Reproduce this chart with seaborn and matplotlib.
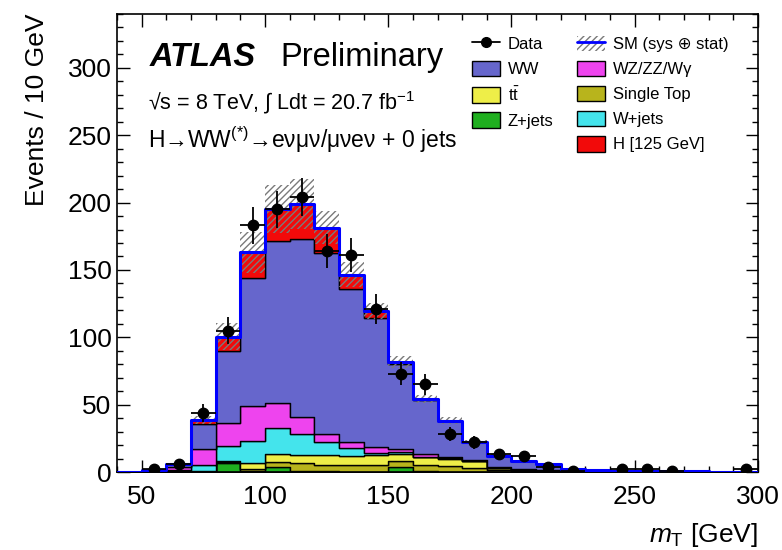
import numpy as np
import pandas as pd
import matplotlib
matplotlib.use("Agg")
import matplotlib.pyplot as plt
import seaborn as sns
from matplotlib.patches import Patch
from matplotlib.lines import Line2D
from matplotlib.ticker import MultipleLocator

# ---------------- data ----------------
bin_edges = list(range(40, 310, 10))
bin_centers = [45, 55, 65, 75, 85, 95, 105, 115, 125, 135, 145, 155, 165,
               175, 185, 195, 205, 215, 225, 235, 245, 255, 265, 275, 285, 295]

z_jets     = [0, 0, 0, 0, 7, 1, 3.5, 0.8, 0.5, 0.3, 0.3, 3.5, 0.8,
              0.3, 0.3, 0.2, 0, 0, 0, 0, 0, 0, 0, 0, 0, 0]
single_top = [0, 0, 0.3, 0.5, 0.5, 1.5, 3.7, 6.2, 4.7, 4.9, 4.9, 5.0, 4.4,
              4.2, 3.0, 1.0, 0.8, 0.4, 0.2, 0.1, 0, 0, 0, 0, 0, 0]
ttbar      = [0, 0, 0.3, 0.3, 1.0, 4.5, 6.2, 5.7, 7.5, 7.0, 7.5, 4.9, 5.8,
              5.2, 4.5, 1.5, 1.0, 0.5, 0.3, 0.2, 0.1, 0.1, 0, 0, 0, 0]
w_jets     = [0, 0.3, 0.8, 4.5, 11, 16, 19, 15.7, 9.4, 5.5, 1.3, 1.3, 0.5,
              0.5, 0.4, 0.3, 0.2, 0.1, 0, 0, 0, 0, 0, 0, 0, 0]
wz_zz_wg   = [0, 0.2, 2.0, 11.5, 17, 26, 19, 12.4, 6.3, 4.9, 4.4, 2.6, 1.7,
              1.0, 0.8, 0.5, 0.3, 0.2, 0.1, 0, 0, 0, 0, 0, 0, 0]
ww         = [0.3, 1.0, 2.5, 19, 53, 95, 120, 132, 134, 113, 96, 63, 40,
              26.5, 13, 8.5, 5.5, 4.5, 1.5, 1.0, 1.0, 0.7, 0.5, 0.4, 0.3, 0.3]
higgs      = [0, 0, 0.1, 2.5, 11, 19, 24, 26, 19, 11, 5, 1.5, 0.8,
              0.5, 0.3, 0.2, 0.1, 0, 0, 0, 0, 0, 0, 0, 0, 0]
sm_err     = [0.2, 0.3, 0.8, 3, 10, 15, 18, 18.6, 12, 9, 6, 4.5, 3,
              2.5, 1.5, 1.2, 1, 0.8, 0.5, 0.4, 0.3, 0.3, 0.2, 0.2, 0.2, 0.2]

data_mT     = [55, 65, 75, 85, 95, 105, 115, 125, 135, 145, 155, 165, 175,
               185, 195, 205, 215, 225, 245, 255, 265, 295]
data_events = [2, 6, 44, 105, 183, 195, 204, 164, 161, 121, 73, 65, 28,
               22, 13, 12, 4, 1, 2, 2, 1, 2]

process_names = ["H [125 GeV]", "WW", "WZ/ZZ/W\u03b3", "W+jets",
                 r"$\mathrm{t\bar{t}}$", "Single Top", "Z+jets"]
process_values = [higgs, ww, wz_zz_wg, w_jets, ttbar, single_top, z_jets]
process_colors = ["#F20A0A", "#6666CC", "#EE44EE", "#44E4EC",
                  "#EEEE48", "#B8B41C", "#1FAF1F"]

# ---------------- style ----------------
sns.set_theme(style="ticks")
plt.rcParams['font.family'] = ['Liberation Sans', 'DejaVu Sans']
plt.rcParams['mathtext.fontset'] = 'custom'
plt.rcParams['mathtext.rm'] = 'Liberation Sans'
plt.rcParams['mathtext.it'] = 'Liberation Sans:italic'
plt.rcParams['mathtext.bf'] = 'Liberation Sans:bold'
plt.rcParams['hatch.linewidth'] = 1.0
plt.rcParams['text.color'] = 'black'
plt.rcParams['axes.labelcolor'] = 'black'
plt.rcParams['xtick.color'] = 'black'
plt.rcParams['ytick.color'] = 'black'

fig = plt.figure(figsize=(7.82, 5.5), dpi=100)
ax = fig.add_axes([117 / 782, 1 - 472 / 550, 641 / 782, 458 / 550])

rows = []
for name, vals in zip(process_names, process_values):
    for c, v in zip(bin_centers, vals):
        rows.append({"mT": c, "events": v, "process": name})
df = pd.DataFrame(rows)

sns.histplot(data=df, x="mT", weights="events", hue="process",
             hue_order=process_names, multiple="stack", bins=bin_edges,
             element="step", fill=True, alpha=1,
             palette=dict(zip(process_names, process_colors)),
             edgecolor="black", linewidth=1, legend=False, ax=ax)

total = np.sum(np.array(process_values), axis=0)
err = np.array(sm_err)
ax.bar(bin_centers, 2 * err, bottom=total - err, width=10, fill=False,
       hatch="/////", edgecolor="#7a7a7a", linewidth=0, zorder=5)

sns.histplot(x=bin_centers, weights=total, bins=bin_edges, element="step",
             fill=False, color="#0000FF", linewidth=2.2, ax=ax, zorder=6)

ax.errorbar(data_mT, data_events, yerr=np.sqrt(data_events), xerr=5,
            fmt="o", color="black", ms=7.5, elinewidth=1.3, capsize=0,
            zorder=10)

# ---------------- axes ----------------
ax.set_xlim(40, 300)
ax.set_ylim(0, 340)
ax.xaxis.set_major_locator(MultipleLocator(50))
ax.xaxis.set_minor_locator(MultipleLocator(10))
ax.yaxis.set_major_locator(MultipleLocator(50))
ax.yaxis.set_minor_locator(MultipleLocator(10))
ax.tick_params(which="both", direction="in", top=True, right=True,
               width=1, labelsize=19)
ax.tick_params(which="major", length=9)
ax.tick_params(which="minor", length=4.5)
ax.tick_params(axis="x", pad=9)
ax.tick_params(axis="y", pad=4)
for s in ax.spines.values():
    s.set_linewidth(1.2)
    s.set_color("black")

ax.set_ylabel("Events / 10 GeV", fontsize=19, loc="top")
ax.yaxis.set_label_coords(-0.106, 1.0)
ax.set_xlabel(r"$m_{\mathrm{T}}$ [GeV]", fontsize=19, loc="right")
ax.xaxis.set_label_coords(1.0, -0.108)

# ---------------- texts ----------------
fig.text(150 / 782, 1 - 66 / 550, "ATLAS", fontsize=23.5, fontweight="bold",
         fontstyle="italic", va="baseline")
fig.text(280 / 782, 1 - 66 / 550, "Preliminary", fontsize=23.5, va="baseline")
fig.text(148 / 782, 1 - 109 / 550,
         "\u221as = 8 TeV, \u222b Ldt = 20.7 fb$^{\\mathrm{-1}}$",
         fontsize=15.5, va="baseline")
fig.text(148 / 782, 1 - 148 / 550,
         "H\u2192W$\\mathrm{W^{(*)}}$\u2192e\u03bd\u03bc\u03bd/\u03bc\u03bde\u03bd + 0 jets",
         fontsize=16.5, va="baseline")

# ---------------- legend ----------------
col = dict(zip(process_names, process_colors))
def box(c):
    return Patch(facecolor=c, edgecolor="black", linewidth=1)

handles = [
    Line2D([], [], color="black", marker="o", ms=7, lw=1.3),
    box(col["WW"]),
    box(col[process_names[4]]),
    box(col["Z+jets"]),
    Patch(facecolor="none", edgecolor="none"),
    (Patch(facecolor="white", edgecolor="#7a7a7a", hatch="/////", linewidth=0),
     Line2D([], [], color="#0000FF", lw=2)),
    box(col[process_names[2]]),
    box(col["Single Top"]),
    box(col["W+jets"]),
    box(col["H [125 GeV]"]),
]
labels = ["Data", "WW", process_names[4], "Z+jets", "",
          "SM (sys \u2295 stat)", process_names[2], "Single Top", "W+jets",
          "H [125 GeV]"]
ax.legend(handles, labels, ncol=2, loc="upper left",
          bbox_to_anchor=((472 - 117) / 641, (472 - 35.5) / 458),
          frameon=False, fontsize=12, handlelength=1.68, handleheight=1.08,
          handletextpad=0.48, labelspacing=0.51, columnspacing=1.38,
          borderpad=0, borderaxespad=0)

fig.savefig("out.png", dpi=100)
